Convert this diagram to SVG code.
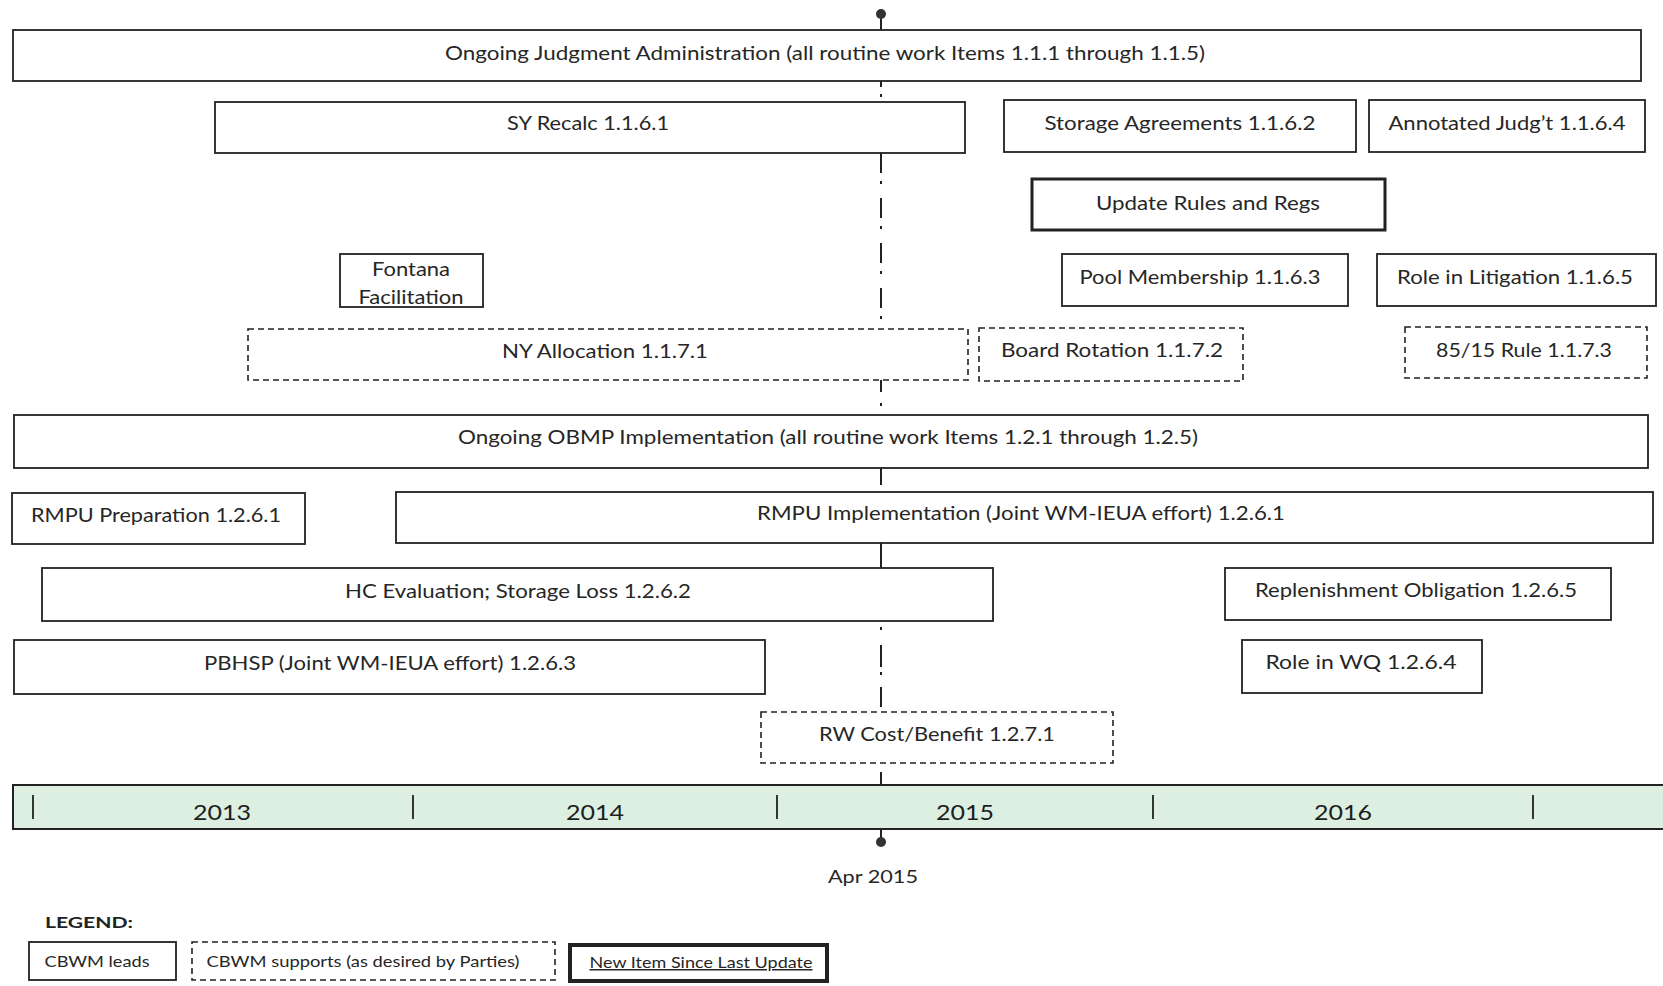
<svg xmlns="http://www.w3.org/2000/svg" width="1663" height="986" viewBox="0 0 1663 986">
<style>
  .box{fill:#fff;stroke:#222;stroke-width:1.8}
  .dbox{fill:#fff;stroke:#222;stroke-width:1.6;stroke-dasharray:6 4}
  .tbox{fill:#fff;stroke:#222;stroke-width:3}
  .lbl{font-family:Lato,"Liberation Sans",sans-serif;font-size:19px;fill:#262626;text-anchor:middle}
  .yr{font-family:Lato,"Liberation Sans",sans-serif;font-size:21px;fill:#1e1e1e;text-anchor:middle}
  .leg{font-family:Lato,"Liberation Sans",sans-serif;font-size:15px;fill:#262626;text-anchor:middle}
  .conn{stroke:#222;stroke-width:2;fill:none}
</style>
<rect width="1663" height="986" fill="#fff"/>

<g id="connectors">
  <path class="conn" d="M881 14 V30 M881 81 V87 M881 94 V97 M881 153 V173 M881 181 V184 M881 198 V218 M881 226 V229 M881 243 V263 M881 271 V274 M881 288 V308 M881 316 V319 M881 380 V392 M881 403 V406 M881 468 V485 M881 543 V568 M881 627 V630 M881 645 V667 M881 672 V675 M881 687 V707 M881 772 V785 M881 829 V838"/>
  <circle cx="881" cy="14" r="5" fill="#333"/>
  <circle cx="881" cy="842" r="5" fill="#333"/>
</g>

<g id="judgment-admin">
  <rect class="box" x="13" y="30" width="1628" height="51"/>
  <text class="lbl" x="825" y="60" textLength="760" lengthAdjust="spacingAndGlyphs">Ongoing Judgment Administration (all routine work Items 1.1.1 through 1.1.5)</text>
</g>
<g id="sy-recalc">
  <rect class="box" x="215" y="102" width="750" height="51"/>
  <text class="lbl" x="588" y="130" textLength="162" lengthAdjust="spacingAndGlyphs">SY Recalc 1.1.6.1</text>
</g>
<g id="storage-agreements">
  <rect class="box" x="1004" y="100" width="352" height="52"/>
  <text class="lbl" x="1180" y="130" textLength="271" lengthAdjust="spacingAndGlyphs">Storage Agreements 1.1.6.2</text>
</g>
<g id="annotated-judgt">
  <rect class="box" x="1369" y="100" width="276" height="52"/>
  <text class="lbl" x="1507" y="130" textLength="237" lengthAdjust="spacingAndGlyphs">Annotated Judg’t 1.1.6.4</text>
</g>
<g id="update-rules">
  <rect class="tbox" x="1032" y="179" width="353" height="51"/>
  <text class="lbl" x="1208" y="210" textLength="224" lengthAdjust="spacingAndGlyphs">Update Rules and Regs</text>
</g>
<g id="fontana">
  <rect class="box" x="340" y="254" width="143" height="53"/>
  <text class="lbl" x="411" y="276" textLength="78" lengthAdjust="spacingAndGlyphs">Fontana</text>
  <text class="lbl" x="411" y="304" textLength="105" lengthAdjust="spacingAndGlyphs">Facilitation</text>
</g>
<g id="pool-membership">
  <rect class="box" x="1062" y="254" width="286" height="52"/>
  <text class="lbl" x="1200" y="284" textLength="241" lengthAdjust="spacingAndGlyphs">Pool Membership 1.1.6.3</text>
</g>
<g id="role-litigation">
  <rect class="box" x="1377" y="254" width="279" height="52"/>
  <text class="lbl" x="1515" y="284" textLength="236" lengthAdjust="spacingAndGlyphs">Role in Litigation 1.1.6.5</text>
</g>
<g id="ny-allocation">
  <rect class="dbox" x="248" y="329" width="720" height="51"/>
  <text class="lbl" x="605" y="358" textLength="206" lengthAdjust="spacingAndGlyphs">NY Allocation 1.1.7.1</text>
</g>
<g id="board-rotation">
  <rect class="dbox" x="979" y="328" width="264" height="53"/>
  <text class="lbl" x="1112" y="357" textLength="222" lengthAdjust="spacingAndGlyphs">Board Rotation 1.1.7.2</text>
</g>
<g id="rule-85-15">
  <rect class="dbox" x="1405" y="327" width="242" height="51"/>
  <text class="lbl" x="1524" y="357" textLength="176" lengthAdjust="spacingAndGlyphs">85/15 Rule 1.1.7.3</text>
</g>
<g id="obmp-impl">
  <rect class="box" x="14" y="415" width="1634" height="53"/>
  <text class="lbl" x="828" y="444" textLength="740" lengthAdjust="spacingAndGlyphs">Ongoing OBMP Implementation (all routine work Items 1.2.1 through 1.2.5)</text>
</g>
<g id="rmpu-prep">
  <rect class="box" x="12" y="493" width="293" height="51"/>
  <text class="lbl" x="156" y="522" textLength="250" lengthAdjust="spacingAndGlyphs">RMPU Preparation 1.2.6.1</text>
</g>
<g id="rmpu-impl">
  <rect class="box" x="396" y="492" width="1257" height="51"/>
  <text class="lbl" x="1021" y="520" textLength="528" lengthAdjust="spacingAndGlyphs">RMPU Implementation (Joint WM-IEUA effort) 1.2.6.1</text>
</g>
<g id="hc-evaluation">
  <rect class="box" x="42" y="568" width="951" height="53"/>
  <text class="lbl" x="518" y="598" textLength="346" lengthAdjust="spacingAndGlyphs">HC Evaluation; Storage Loss 1.2.6.2</text>
</g>
<g id="replenishment">
  <rect class="box" x="1225" y="568" width="386" height="52"/>
  <text class="lbl" x="1416" y="597" textLength="322" lengthAdjust="spacingAndGlyphs">Replenishment Obligation 1.2.6.5</text>
</g>
<g id="pbhsp">
  <rect class="box" x="14" y="640" width="751" height="54"/>
  <text class="lbl" x="390" y="670" textLength="372" lengthAdjust="spacingAndGlyphs">PBHSP (Joint WM-IEUA effort) 1.2.6.3</text>
</g>
<g id="role-wq">
  <rect class="box" x="1242" y="640" width="240" height="53"/>
  <text class="lbl" x="1361" y="669" textLength="191" lengthAdjust="spacingAndGlyphs">Role in WQ 1.2.6.4</text>
</g>
<g id="rw-cost-benefit">
  <rect class="dbox" x="761" y="712" width="352" height="51"/>
  <text class="lbl" x="937" y="741" textLength="236" lengthAdjust="spacingAndGlyphs">RW Cost/Benefit 1.2.7.1</text>
</g>

<g id="timeline">
  <rect x="13" y="785" width="1660" height="44" fill="#dcefe1" stroke="#222" stroke-width="2"/>
  <path d="M33 795 V819 M413 795 V819 M777 795 V819 M1153 795 V819 M1533 795 V819" stroke="#222" stroke-width="1.8"/>
  <text class="yr" x="222" y="820" textLength="58" lengthAdjust="spacingAndGlyphs">2013</text>
  <text class="yr" x="595" y="820" textLength="58" lengthAdjust="spacingAndGlyphs">2014</text>
  <text class="yr" x="965" y="820" textLength="58" lengthAdjust="spacingAndGlyphs">2015</text>
  <text class="yr" x="1343" y="820" textLength="58" lengthAdjust="spacingAndGlyphs">2016</text>
</g>
<g id="apr-2015">
  <text class="lbl" x="873" y="883" style="font-size:18px" textLength="90" lengthAdjust="spacingAndGlyphs">Apr 2015</text>
</g>

<g id="legend">
  <text x="45" y="928" style="font-family:Lato,'Liberation Sans',sans-serif;font-size:15px;font-weight:bold;fill:#222" textLength="88" lengthAdjust="spacingAndGlyphs">LEGEND:</text>
  <g id="legend-leads">
    <rect class="box" x="29" y="942" width="147" height="38"/>
    <text class="leg" x="97" y="967" textLength="105" lengthAdjust="spacingAndGlyphs">CBWM leads</text>
  </g>
  <g id="legend-supports">
    <rect class="dbox" x="192" y="942" width="363" height="38"/>
    <text class="leg" x="363" y="967" textLength="313" lengthAdjust="spacingAndGlyphs">CBWM supports (as desired by Parties)</text>
  </g>
  <g id="legend-new">
    <rect x="570" y="945" width="257" height="36" fill="#fff" stroke="#222" stroke-width="4"/>
    <text class="leg" x="701" y="968" text-decoration="underline" textLength="223" lengthAdjust="spacingAndGlyphs">New Item Since Last Update</text>
  </g>
</g>
</svg>
